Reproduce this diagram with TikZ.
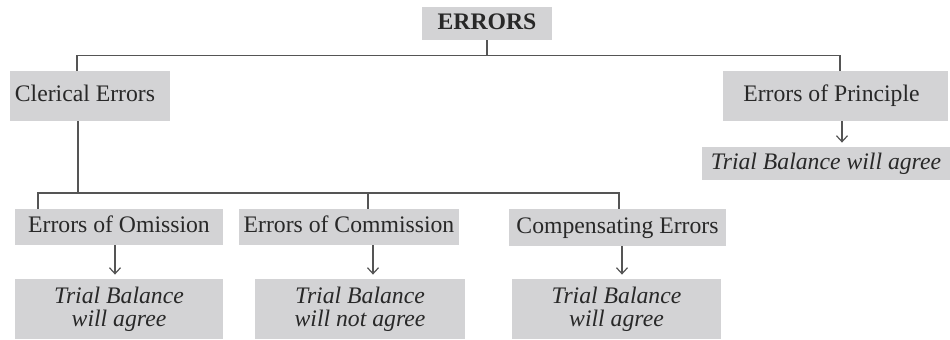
\documentclass[tikz,border=0pt]{standalone}
\usepackage{fontspec}
\setmainfont{Liberation Serif}
\usepackage{tikz}
\usetikzlibrary{arrows.meta}

\definecolor{boxgray}{RGB}{211,211,213}
\definecolor{linegray}{RGB}{85,85,85}
\definecolor{inkgray}{RGB}{40,40,40}

\tikzset{
  box/.style={fill=boxgray, inner sep=0pt, text=inkgray, font=\fontsize{11.85}{11.4}\selectfont, align=center},
  label/.style={box, text height=8.2pt, text depth=2.6pt},
  result/.style={box, font=\itshape\fontsize{11.85}{11.6}\selectfont},
  link/.style={draw=linegray, line width=0.75pt},
  pointer/.style={link, -{Straight Barb[length=3pt, width=5.5pt, line width=0.6pt]}, shorten >=2pt}
}

\begin{document}
\begin{tikzpicture}[x=0.5pt, y=-0.5pt]

\useasboundingbox (0,0) rectangle (950,339);

\node[label, minimum width=65pt, minimum height=16.5pt, font=\bfseries\fontsize{11.85}{11.4}\selectfont] (errors) at (487,23.5) {ERRORS};

\node[label, minimum width=80pt, minimum height=25pt] (clerical) at (90,96) {Clerical Errors\hspace{5pt}};
\node[label, minimum width=112.5pt, minimum height=25pt] (principle) at (835.5,96) {Errors of Principle\hspace{4pt}};
\node[result, text height=8.2pt, text depth=2.6pt, minimum width=124pt, minimum height=16.5pt] (principleres) at (826,163.5) {Trial Balance will agree};

\node[label, minimum width=104pt, minimum height=18pt] (omission) at (119,227) {Errors of Omission};
\node[label, minimum width=110pt, minimum height=18pt] (commission) at (349,227) {Errors of Commission};
\node[label, minimum width=108.5pt, minimum height=18.5pt] (compensating) at (617.5,227.5) {Compensating Errors};

\node[result, minimum width=104pt, minimum height=30pt] (omissionres) at (119,309) {Trial Balance\\will agree};
\node[result, minimum width=105pt, minimum height=30pt] (commissionres) at (360,309) {Trial Balance\\will not agree};
\node[result, minimum width=104.5pt, minimum height=30pt] (compensatingres) at (616.5,309) {Trial Balance\\will agree};

% top bus
\coordinate (topbus) at (487,55.5);
\draw[link] (errors.south) -- (topbus);
\draw[link] ([xshift=-6.5pt]clerical.north) |- (topbus) -| ([xshift=2.25pt]principle.north);

% clerical bus
\coordinate (lowbus) at (78,193);
\draw[link] ([xshift=-6pt]clerical.south) -- (lowbus);
\draw[link] ([xshift=-40.5pt]omission.north) |- (lowbus) -| ([xshift=0.75pt]compensating.north);
\draw[link] ([xshift=9.5pt]commission.north) -- ([xshift=9.5pt]commission.north |- lowbus);

% arrows to results
\draw[pointer] ([xshift=3.25pt]principle.south) -- ([xshift=3.25pt]principle.south |- principleres.north);
\draw[pointer] ([xshift=-2pt]omission.south) -- ([xshift=-2pt]omission.south |- omissionres.north);
\draw[pointer] ([xshift=12pt]commission.south) -- ([xshift=12pt]commission.south |- commissionres.north);
\draw[pointer] ([xshift=2.25pt]compensating.south) -- ([xshift=2.25pt]compensating.south |- compensatingres.north);

\end{tikzpicture}
\end{document}
